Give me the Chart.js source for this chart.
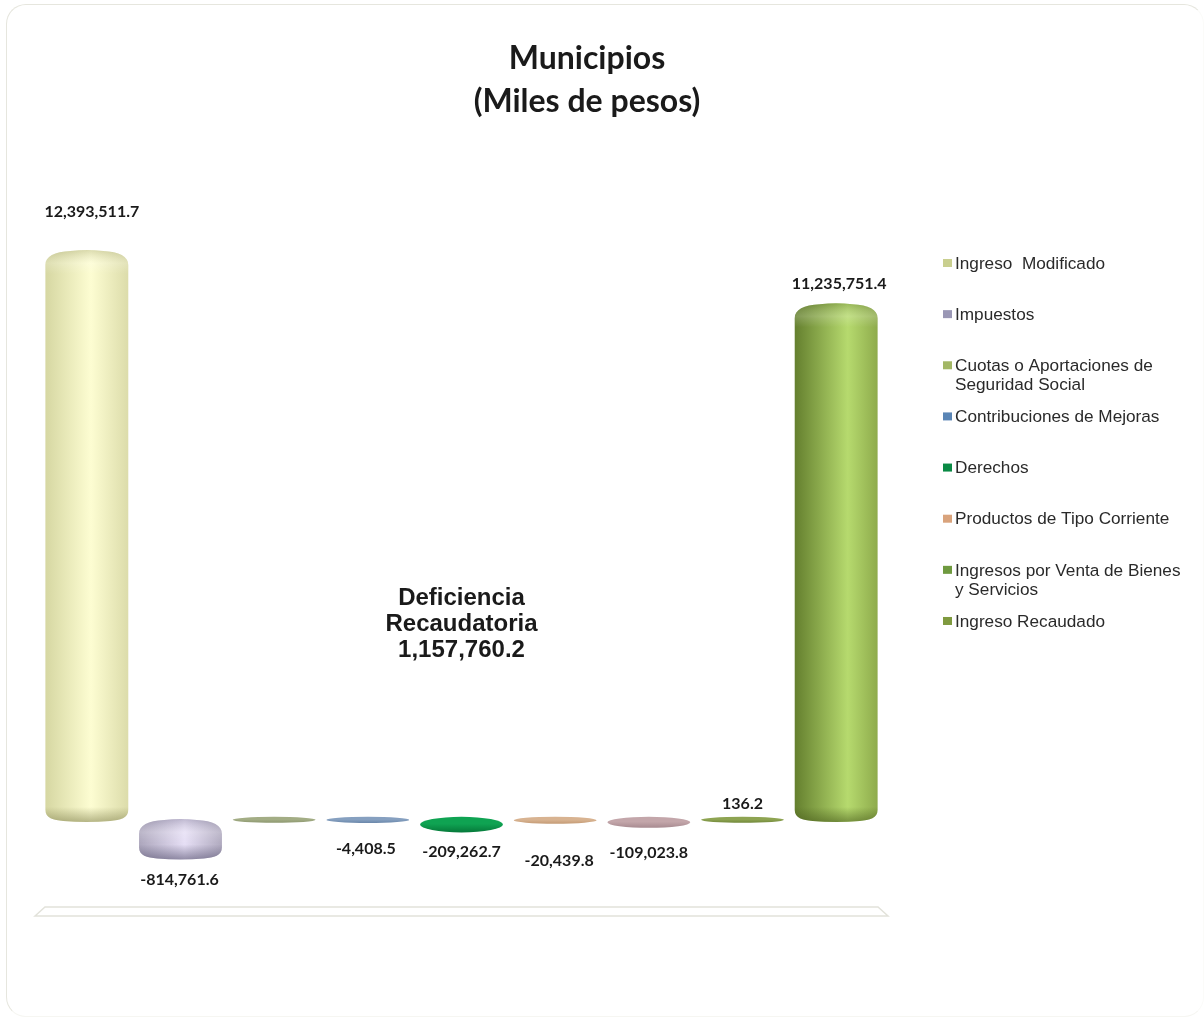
<!DOCTYPE html>
<html>
<head>
<meta charset="utf-8">
<title>Municipios</title>
<script src="https://cdn.jsdelivr.net/npm/chart.js@4"></script>
<style>
    html, body { margin: 0; padding: 0; background: #fff; }
    #frame {
        position: absolute; left: 6px; top: 4px; width: 1196px; height: 1011px;
        border: 1.5px solid #e6e6de; border-right-color: #fbfbf9; border-bottom-color: #f6f6f2;
        border-radius: 20px;
    }
    #wrap { position: absolute; left: 0; top: 0; width: 1204px; height: 1017px; }
</style>
</head>
<body>
<div id="frame"></div>
<div id="wrap"><canvas id="chart"></canvas></div>
<script>
const titleLines = ["Municipios", "(Miles de pesos)"];
const categories = [
    ["Ingreso  Modificado"],
    ["Impuestos"],
    ["Cuotas o Aportaciones de", "Seguridad Social"],
    ["Contribuciones de Mejoras"],
    ["Derechos"],
    ["Productos de Tipo Corriente"],
    ["Ingresos por Venta de Bienes", "y Servicios"],
    ["Ingreso Recaudado"],
];
// nine columns but eight legend entries: the 136.2 column has no name in the picture
const barCategories = [...categories.slice(0, 7), "", categories[7]];
const values = [12393511.7, -814761.6, 0, -4408.5, -209262.7, -20439.8, -109023.8, 136.2, 11235751.4];
const valueLabels = ["12,393,511.7", "-814,761.6", "", "-4,408.5", "-209,262.7", "-20,439.8", "-109,023.8", "136.2", "11,235,751.4"];
const noteLines = ["Deficiencia", "Recaudatoria", "1,157,760.2"];

// left edge, centre, right edge of each column
const barColors = [
    ["#d6d7a2", "#fdfdd2", "#dcdcaa"],
    ["#aca6bc", "#e6dff5", "#b0aabf"],
    ["#8d9870", "#a3ad85", "#8d9870"],
    ["#6a87aa", "#86a0c0", "#6a87aa"],
    ["#06793a", "#0fa352", "#06793a"],
    ["#c49b75", "#d8b391", "#c49b75"],
    ["#a78a90", "#c3a6aa", "#a78a90"],
    ["#71883a", "#8ea452", "#71883a"],
    ["#647f2e", "#b6da6e", "#8eab4c"],
];
const barShade = ["135,135,85", "90,85,115", "", "", "", "", "", "", "75,95,30"];
const legendColors = ["#c9cf8f", "#9a97b5", "#a3b765", "#5a85b5", "#0a8a45", "#d9a37c", "#6f9a3f", "#7f9a3f"];
// where each value label sits relative to its column end: [dx, dy]
const labelNudge = [[5, -38], [-1, 23], [0, 0], [-2, 30], [0, 23], [4, 41], [0, 29], [0, -15], [3, -19]];

// columns are drawn as rounded cylinders, very short ones as flat discs
Chart.BarElement.prototype.draw = function (ctx) {
    const { x, y, base, width } = this.getProps(["x", "y", "base", "width"]);
    const i = this.$context.dataIndex;
    const cols = barColors[i];
    const l = x - width / 2, r = x + width / 2;
    const top = Math.min(y, base);
    const h = Math.abs(y - base);
    ctx.save();
    if (h < 15) {
        const ry = h / 2 + 3;
        const cy = top + h / 2 + 0.8;
        const g = ctx.createLinearGradient(0, cy - ry, 0, cy + ry);
        g.addColorStop(0, cols[1]);
        g.addColorStop(0.45, cols[1]);
        g.addColorStop(1, cols[0]);
        ctx.fillStyle = g;
        ctx.beginPath();
        ctx.ellipse(x, cy, width / 2, ry, 0, 0, Math.PI * 2);
        ctx.fill();
        ctx.restore();
        return;
    }
    const bot = top + h + 3;
    ctx.beginPath();
    ctx.moveTo(l, top + 15);
    ctx.bezierCurveTo(l, top + 6, l + 9, top + 2, l + 25, top + 1);
    ctx.quadraticCurveTo(x, top - 1, r - 25, top + 1);
    ctx.bezierCurveTo(r - 9, top + 2, r, top + 6, r, top + 15);
    ctx.lineTo(r, bot - 12);
    ctx.bezierCurveTo(r, bot - 4, r - 8, bot - 2, r - 18, bot - 1);
    ctx.quadraticCurveTo(x, bot + 1, l + 18, bot - 1);
    ctx.bezierCurveTo(l + 8, bot - 2, l, bot - 4, l, bot - 12);
    ctx.closePath();
    const g = ctx.createLinearGradient(l, 0, r, 0);
    g.addColorStop(0, cols[0]);
    g.addColorStop(i === 8 ? 0.64 : 0.55, cols[1]);
    g.addColorStop(1, cols[2]);
    ctx.fillStyle = g;
    ctx.fill();
    ctx.clip();
    const shade = barShade[i];
    const capG = ctx.createLinearGradient(0, top, 0, top + 24);
    capG.addColorStop(0, "rgba(" + shade + ",0.28)");
    capG.addColorStop(0.55, "rgba(255,255,255,0.18)");
    capG.addColorStop(1, "rgba(255,255,255,0)");
    ctx.fillStyle = capG;
    ctx.fillRect(l, top - 1, width, 25);
    const footG = ctx.createLinearGradient(0, bot - 15, 0, bot);
    footG.addColorStop(0, "rgba(" + shade + ",0)");
    footG.addColorStop(1, "rgba(" + shade + ",0.6)");
    ctx.fillStyle = footG;
    ctx.fillRect(l, bot - 15, width, 17);
    ctx.restore();
};

const legendBox = {
    position: "right",
    weight: 0,
    fullSize: false,
    options: {},
    isHorizontal() { return false; },
    update(maxWidth, maxHeight) { this.width = 251; this.height = maxHeight; },
    draw() {
        const ctx = this.ctx;
        ctx.save();
        ctx.textBaseline = "middle";
        ctx.font = "17.2px 'Liberation Sans'";
        categories.forEach((lines, i) => {
            const yy = 263 + i * 51.14;
            ctx.fillStyle = legendColors[i];
            ctx.fillRect(943, yy - 4, 9, 8);
            ctx.fillStyle = "#2a2a2a";
            lines.forEach((t, j) => ctx.fillText(t, 955, yy + 1 + j * 19));
        });
        ctx.restore();
    },
};

const cylinderExtras = {
    id: "cylinderExtras",
    beforeInit(chart) {
        legendBox.ctx = chart.ctx;
        Chart.layouts.addBox(chart, legendBox);
    },
    beforeDatasetsDraw(chart) {
        const { ctx, chartArea: a } = chart;
        ctx.save();
        ctx.strokeStyle = "#e2e2da";
        ctx.lineWidth = 1.5;
        ctx.beginPath();
        ctx.moveTo(a.left - 5, a.bottom + 9);
        ctx.lineTo(a.left + 5, a.bottom);
        ctx.lineTo(a.right - 5, a.bottom);
        ctx.lineTo(a.right + 5, a.bottom + 9);
        ctx.closePath();
        ctx.stroke();
        ctx.restore();
    },
    afterDatasetsDraw(chart) {
        const { ctx, scales } = chart;
        const meta = chart.getDatasetMeta(0);
        ctx.save();
        ctx.textAlign = "center";
        ctx.textBaseline = "middle";
        ctx.fillStyle = "#1a1a1a";
        ctx.font = "bold 16px Lato";
        meta.data.forEach((bar, i) => {
            if (!valueLabels[i]) return;
            ctx.fillText(valueLabels[i], bar.x + labelNudge[i][0], bar.y + labelNudge[i][1]);
        });
        ctx.font = "bold 24px 'Liberation Sans'";
        noteLines.forEach((t, i) => {
            ctx.fillText(t, scales.x.getPixelForValue(4), 598 + i * 26);
        });
        ctx.restore();
    },
};

new Chart(document.getElementById("chart").getContext("2d"), {
    type: "bar",
    data: {
        labels: barCategories,
        datasets: [{ data: values, backgroundColor: barColors.map((c) => c[1]) }],
    },
    options: {
        responsive: true,
        maintainAspectRatio: false,
        animation: false,
        barPercentage: 0.885,
        categoryPercentage: 1,
        layout: { padding: { left: 40, right: 70, top: 0, bottom: 110 } },
        scales: {
            x: { display: false },
            y: { display: false, min: -1917000, max: 14790000 },
        },
        plugins: {
            legend: { display: false },
            tooltip: { enabled: false },
            title: {
                display: true,
                text: titleLines,
                color: "#1a1a1a",
                font: { family: "Lato", size: 32, weight: "bold", lineHeight: 1.344 },
                padding: { top: 37, bottom: 17 },
            },
        },
    },
    plugins: [cylinderExtras],
});
</script>
</body>
</html>
